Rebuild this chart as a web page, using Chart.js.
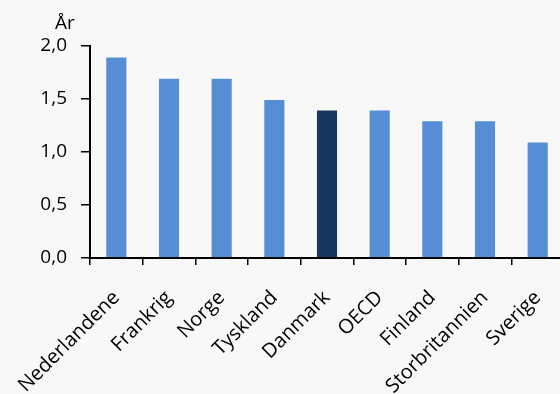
<!DOCTYPE html>
<html>
<head>
<meta charset="utf-8">
<script src="https://cdn.jsdelivr.net/npm/chart.js@4"></script>
<style>
  html, body { margin: 0; padding: 0; background: #f8f8f8; overflow: hidden; }
  #wrap { width: 560px; height: 394px; overflow: hidden; }
</style>
</head>
<body>
<div id="wrap"><canvas id="chart" width="564" height="394"></canvas></div>
<script>
const countries = ["Nederlandene", "Frankrig", "Norge", "Tyskland", "Danmark", "OECD", "Finland", "Storbritannien", "Sverige"];
const years = [1.9, 1.7, 1.7, 1.5, 1.4, 1.4, 1.3, 1.3, 1.1];
const yTicks = [0, 0.5, 1.0, 1.5, 2.0];
const unit = "År";

const barColors = countries.map((c) => (c === "Danmark" ? "#17375e" : "#558ed5"));
const fontFamily = "'Open Sans', sans-serif";

// draws the unit label above the y axis
const unitLabel = {
  id: "unitLabel",
  afterDraw: (chart) => {
    const ctx = chart.ctx;
    ctx.save();
    ctx.font = `19px ${fontFamily}`;
    ctx.fillStyle = "#000";
    ctx.textAlign = "left";
    ctx.textBaseline = "alphabetic";
    ctx.fillText(unit, 55, 29);
    ctx.restore();
  },
};

Chart.defaults.font.family = fontFamily;
Chart.defaults.color = "#000";

new Chart("chart", {
  type: "bar",
  data: {
    labels: countries,
    datasets: [
      {
        data: years,
        backgroundColor: barColors,
        borderColor: "rgba(255,255,255,0.35)",
        borderWidth: 1,
        barPercentage: 0.42,
        categoryPercentage: 1,
      },
    ],
  },
  options: {
    responsive: false,
    animation: false,
    layout: { padding: { top: 46, left: 0, right: 0, bottom: 0 } },
    plugins: {
      legend: { display: false },
      tooltip: { enabled: false },
    },
    scales: {
      x: {
        grid: {
          drawOnChartArea: false,
          drawTicks: true,
          tickLength: 7,
          color: "#000",
          lineWidth: 1.5,
        },
        border: { color: "#000", width: 2 },
        ticks: {
          font: { size: 20 },
          minRotation: 45,
          maxRotation: 45,
          padding: 21,
        },
        afterFit: (scale) => {
          scale.height = 136;
          scale.paddingLeft = 0;
          scale.paddingRight = 0;
        },
      },
      y: {
        min: 0,
        max: 2,
        afterBuildTicks: (scale) => {
          scale.ticks = yTicks.map((v) => ({ value: v }));
        },
        grid: {
          drawOnChartArea: false,
          tickLength: 9,
          color: "#000",
          lineWidth: 1.5,
        },
        border: { color: "#000", width: 2 },
        ticks: {
          font: { size: 19 },
          padding: 14,
          callback: (v) => v.toFixed(1).replace(".", ","),
        },
        afterFit: (scale) => {
          scale.width = 90;
        },
      },
    },
  },
  plugins: [unitLabel],
});
</script>
</body>
</html>
